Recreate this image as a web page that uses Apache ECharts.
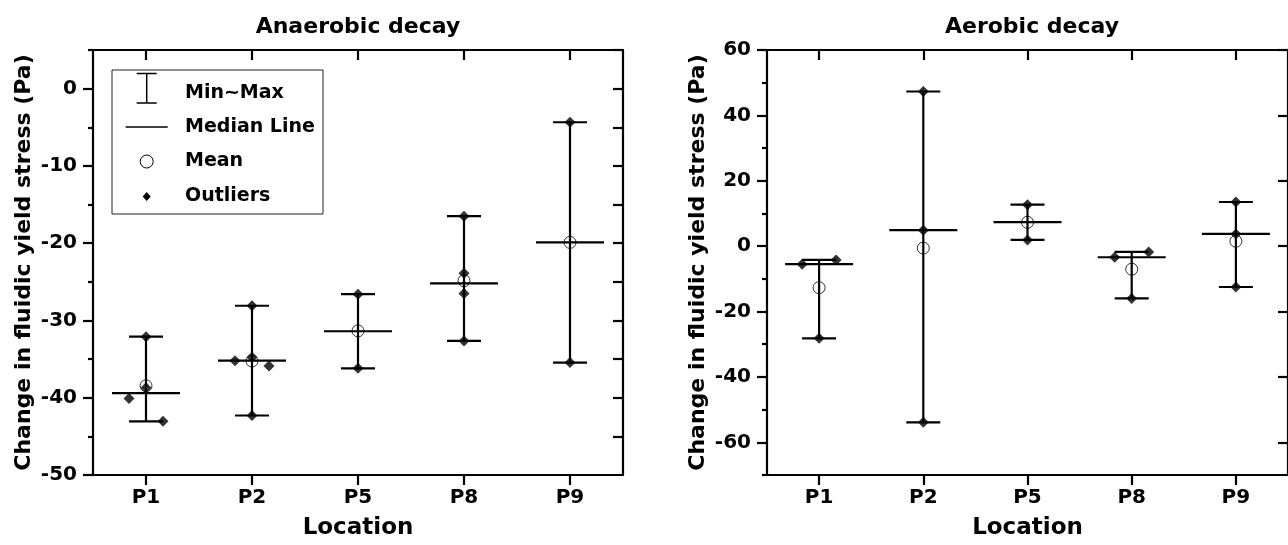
<!DOCTYPE html>
<html>
<head>
<meta charset="utf-8">
<script src="https://cdn.jsdelivr.net/npm/echarts@6/dist/echarts.min.js"></script>
<style>
html,body{margin:0;padding:0;background:#fff;}
#c{width:1288px;height:545px;}
</style>
</head>
<body>
<div id="c"></div>
<script>
// ---------- DATA ----------
const categories = ['P1', 'P2', 'P5', 'P8', 'P9'];

// Anaerobic decay
const anMax    = [-32.1, -28.1, -26.6, -16.5, -4.35];
const anMin    = [-43.05, -42.3, -36.2, -32.65, -35.45];
const anMedian = [-39.4, -35.2, -31.4, -25.2, -19.9];
const anMean   = [-38.45, -35.25, -31.35, -24.85, -19.9];
const anPtCat  = [0, 0, 0, 0, 1, 1, 1, 1, 1, 2, 2, 3, 3, 3, 3, 4, 4];
const anPtVal  = [-32.1, -38.7, -40.1, -43.05, -28.1, -34.75, -35.2, -35.9, -42.3, -26.6, -36.2, -16.5, -23.9, -26.5, -32.65, -4.35, -35.45];
const anPtSide = [0, 0, -1, 1, 0, 0, -1, 1, 0, 0, 0, 0, 0, 0, 0, 0, 0];
const anLabelTicks = [-50, -40, -30, -20, -10, 0];
const anMinorTicks = [-45, -35, -25, -15, -5, 5];
const anRightTicks = [-45, -40, -35, -30, -25, -20, -15, -10, -5, 0, 5];

// Aerobic decay
const aeMax    = [-4.2, 47.3, 12.7, -1.75, 13.5];
const aeMin    = [-28.2, -53.9, 1.9, -16.0, -12.5];
const aeMedian = [-5.5, 4.9, 7.35, -3.4, 3.75];
const aeMean   = [-12.7, -0.6, 7.3, -7.05, 1.5];
const aePtCat  = [0, 0, 0, 1, 1, 1, 2, 2, 3, 3, 3, 4, 4, 4];
const aePtVal  = [-5.5, -4.2, -28.2, 47.3, 4.9, -53.9, 12.7, 1.9, -1.75, -3.4, -16.0, 13.5, 3.75, -12.5];
const aePtSide = [-1, 1, 0, 0, 0, 0, 0, 0, 1, -1, 0, 0, 0, 0];
const aeLabelTicks = [-60, -40, -20, 0, 20, 40, 60];
const aeMinorTicks = [-70, -50, -30, -10, 10, 30, 50];
const aeRightTicks = [-60, -40, -20, 0, 20, 40, 60];

const legendLabels = ['Min~Max', 'Median Line', 'Mean', 'Outliers'];
const titles = ['Anaerobic decay', 'Aerobic decay'];
const yName = 'Change in fluidic yield stress (Pa)';
const xName = 'Location';

// ---------- STYLE ----------
const FONT = 'DejaVu Sans';
const CAP = 17, MED = 34, JITTER = 17;
const GRIDS = [
  {left: 93, top: 50, width: 530, height: 426},
  {left: 767, top: 50, width: 530, height: 426}
];

function errorSeries(gi, mins, maxs, meds) {
  return {
    type: 'custom', name: 'Min~Max', xAxisIndex: gi * 2, yAxisIndex: gi * 3,
    encode: {x: 0, y: [1, 2, 3]}, silent: true, z: 2,
    data: categories.map((c, i) => [i, mins[i], maxs[i], meds[i]]),
    renderItem(params, api) {
      const i = api.value(0);
      const lo = api.coord([i, api.value(1)]);
      const hi = api.coord([i, api.value(2)]);
      const md = api.coord([i, api.value(3)]);
      const st = {stroke: '#000', lineWidth: 2.2, fill: null};
      return {type: 'group', children: [
        {type: 'line', shape: {x1: lo[0], y1: lo[1], x2: hi[0], y2: hi[1]}, style: st},
        {type: 'line', shape: {x1: lo[0] - CAP, y1: lo[1], x2: lo[0] + CAP, y2: lo[1]}, style: st},
        {type: 'line', shape: {x1: hi[0] - CAP, y1: hi[1], x2: hi[0] + CAP, y2: hi[1]}, style: st},
        {type: 'line', shape: {x1: md[0] - MED, y1: md[1], x2: md[0] + MED, y2: md[1]}, style: st}
      ]};
    }
  };
}
function meanSeries(gi, means) {
  return {
    type: 'scatter', name: 'Mean', xAxisIndex: gi * 2, yAxisIndex: gi * 3, silent: true, z: 3,
    symbol: 'circle', symbolSize: 12,
    itemStyle: {color: 'rgba(0,0,0,0)', borderColor: '#000', borderWidth: 1},
    data: categories.map((c, i) => [i, means[i]])
  };
}
function pointSeries(gi, cats, vals, sides) {
  return {
    type: 'scatter', name: 'Outliers', xAxisIndex: gi * 2, yAxisIndex: gi * 3, silent: true, z: 4,
    symbol: 'diamond', symbolSize: 11, itemStyle: {color: '#000'},
    data: vals.map((v, k) => ({value: [cats[k], v], symbolOffset: [sides[k] * JITTER, 0]}))
  };
}
const axisLine = {show: true, onZero: false, lineStyle: {color: '#000', width: 2.2}};
const tickStyle = {color: '#000', width: 2.2};
function xAxes(gi) {
  return [
    {type: 'category', gridIndex: gi, position: 'bottom', data: categories, boundaryGap: true,
     axisLine, axisTick: {show: true, alignWithLabel: true, length: 10, lineStyle: tickStyle},
     axisLabel: {color: '#000', fontFamily: FONT, fontWeight: 'bold', fontSize: 20, margin: 13},
     splitLine: {show: false},
     name: xName, nameLocation: 'middle', nameGap: 42,
     nameTextStyle: {color: '#000', fontFamily: FONT, fontWeight: 'bold', fontSize: 23}},
    {type: 'category', gridIndex: gi, position: 'top', data: categories, boundaryGap: true,
     axisLine, axisTick: {show: true, inside: true, alignWithLabel: true, length: 10, lineStyle: tickStyle},
     axisLabel: {show: false}, splitLine: {show: false}}
  ];
}
function yAxes(gi, min, max, labelTicks, minorTicks, rightTicks) {
  return [
    {type: 'value', gridIndex: gi, position: 'left', min, max,
     axisLine, axisTick: {show: true, length: 10, customValues: labelTicks, lineStyle: tickStyle},
     axisLabel: {customValues: labelTicks, color: '#000', fontFamily: FONT, fontWeight: 'bold', fontSize: 20, margin: 16},
     splitLine: {show: false},
     name: yName, nameLocation: 'middle', nameRotate: 90, nameGap: 58,
     nameTextStyle: {color: '#000', fontFamily: FONT, fontWeight: 'bold', fontSize: 22}},
    {type: 'value', gridIndex: gi, position: 'left', min, max,
     axisLine: {show: false}, axisTick: {show: true, length: 5, customValues: minorTicks, lineStyle: tickStyle},
     axisLabel: {show: false}, splitLine: {show: false}},
    {type: 'value', gridIndex: gi, position: 'right', min, max,
     axisLine, axisTick: {show: true, inside: true, length: 10, customValues: rightTicks, lineStyle: tickStyle},
     axisLabel: {show: false}, splitLine: {show: false}}
  ];
}

// legend drawn as graphic elements (real text)
const LX = 146.7, LT = 185;
const legendRows = [93, 127, 161.5, 196.5];
const legendGraphics = [
  {type: 'rect', shape: {x: 112, y: 70, width: 211, height: 144}, style: {fill: '#fff', stroke: '#222', lineWidth: 1}, z: 10},
  {type: 'line', shape: {x1: LX, y1: 73.5, x2: LX, y2: 103}, style: {stroke: '#000', lineWidth: 1.5}, z: 11},
  {type: 'line', shape: {x1: LX - 10, y1: 73.5, x2: LX + 10, y2: 73.5}, style: {stroke: '#000', lineWidth: 1.5}, z: 11},
  {type: 'line', shape: {x1: LX - 10, y1: 103, x2: LX + 10, y2: 103}, style: {stroke: '#000', lineWidth: 1.5}, z: 11},
  {type: 'line', shape: {x1: LX - 21, y1: legendRows[1], x2: LX + 21, y2: legendRows[1]}, style: {stroke: '#000', lineWidth: 1.5}, z: 11},
  {type: 'circle', shape: {cx: LX, cy: legendRows[2], r: 6.5}, style: {fill: 'none', stroke: '#000', lineWidth: 1}, z: 11},
  {type: 'polygon', shape: {points: [[LX, legendRows[3] - 4.5], [LX + 4, legendRows[3]], [LX, legendRows[3] + 4.5], [LX - 4, legendRows[3]]]}, style: {fill: '#000'}, z: 11}
].concat(legendLabels.map((t, k) => ({
  type: 'text', x: LT, y: legendRows[k], z: 11,
  style: {text: t, fill: '#000', font: 'bold 19px "' + FONT + '"', verticalAlign: 'middle', align: 'left'}
}))).concat(titles.map((t, k) => ({
  type: 'text', x: GRIDS[k].left + GRIDS[k].width / 2, y: 27,
  style: {text: t, fill: '#000', font: 'bold 22px "' + FONT + '"', verticalAlign: 'middle', align: 'center'}
})));

const chart = echarts.init(document.getElementById('c'), null, {renderer: 'canvas'});
chart.setOption({
  animation: false,
  backgroundColor: '#fff',
  grid: GRIDS.map(g => Object.assign({containLabel: false}, g)),
  xAxis: xAxes(0).concat(xAxes(1)),
  yAxis: yAxes(0, -50, 5, anLabelTicks, anMinorTicks, anRightTicks)
    .concat(yAxes(1, -70, 60, aeLabelTicks, aeMinorTicks, aeRightTicks)),
  series: [
    errorSeries(0, anMin, anMax, anMedian), meanSeries(0, anMean), pointSeries(0, anPtCat, anPtVal, anPtSide),
    errorSeries(1, aeMin, aeMax, aeMedian), meanSeries(1, aeMean), pointSeries(1, aePtCat, aePtVal, aePtSide)
  ],
  graphic: legendGraphics
});
</script>
</body>
</html>
